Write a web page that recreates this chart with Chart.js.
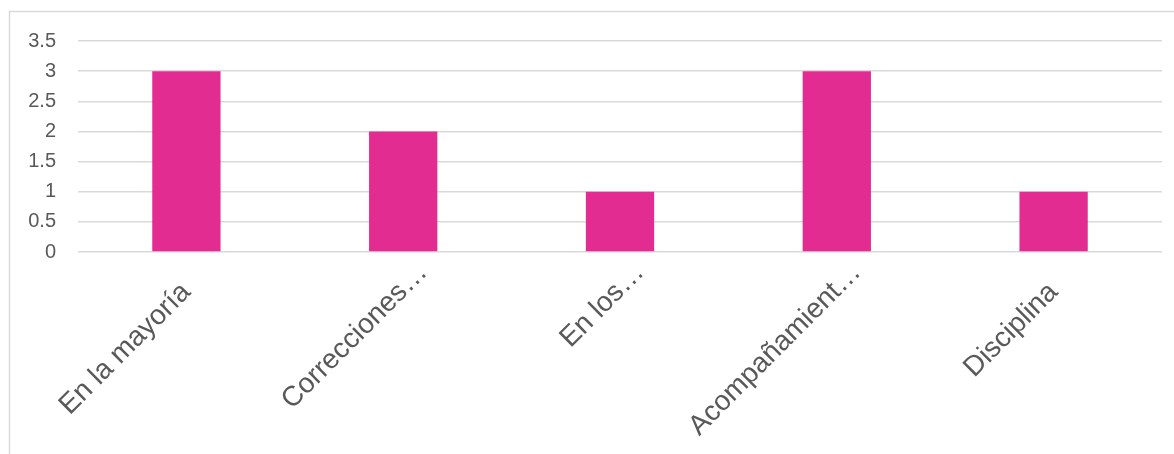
<!DOCTYPE html>
<html>
<head>
<meta charset="utf-8">
<script src="https://cdn.jsdelivr.net/npm/chart.js@4.4.0/dist/chart.umd.min.js"></script>
<style>
html,body{margin:0;padding:0;background:#fff;overflow:hidden;}
#wrap{position:absolute;left:0;top:0;width:1174px;height:454px;}
</style>
</head>
<body>
<div id="wrap"><canvas id="c" width="1174" height="454"></canvas></div>
<script>
const categories = ["En la mayoría", "Correcciones…", "En los…", "Acompañamient…", "Disciplina"];
const values = [3, 2, 1, 3, 1];
const yTicks = [0, 0.5, 1, 1.5, 2, 2.5, 3, 3.5];

const ELL = '…';

const frame = {
  id: 'frame',
  beforeDraw(chart) {
    const ctx = chart.ctx;
    ctx.save();
    ctx.strokeStyle = '#D9D9D9';
    ctx.lineWidth = 1.5;
    ctx.strokeRect(9.5, 11.5, 2000, 2000);
    ctx.restore();
  },
  afterDraw(chart) {
    // Excel-style overflow ellipsis: appended beyond the tick anchor
    const sc = chart.scales.x;
    const items = sc.getLabelItems();
    const ctx = chart.ctx;
    items.forEach((it, i) => {
      const full = categories[i];
      if (!full.endsWith(ELL)) return;
      const o = it.options;
      ctx.save();
      ctx.font = it.font.string;
      ctx.fillStyle = o.color;
      ctx.translate(o.translation[0], o.translation[1]);
      ctx.rotate(o.rotation);
      ctx.textAlign = 'left';
      ctx.textBaseline = o.textBaseline;
      ctx.fillText(ELL, 0, it.textOffset);
      ctx.restore();
    });
  }
};

new Chart(document.getElementById('c'), {
  type: 'bar',
  data: {
    labels: categories,
    datasets: [{
      data: values,
      backgroundColor: '#E32C91',
      barPercentage: 0.63,
      categoryPercentage: 0.5
    }]
  },
  options: {
    responsive: false,
    animation: false,
    layout: { padding: { left: 0, right: 12, top: 41, bottom: 0 } },
    plugins: { legend: { display: false }, tooltip: { enabled: false } },
    scales: {
      x: {
        grid: { display: false },
        border: { display: false },
        ticks: {
          autoSkip: false,
          maxRotation: 45, minRotation: 45,
          color: '#595959',
          padding: 16,
          callback: (v, i) => categories[i].endsWith(ELL) ? categories[i].slice(0, -1) : categories[i],
          font: { family: 'Liberation Sans, Arial, sans-serif', size: 28 }
        },
        afterFit(s) { s.height = 202; }
      },
      y: {
        min: 0, max: 3.5,
        afterBuildTicks(s) { s.ticks = yTicks.map(v => ({ value: v })); },
        grid: { color: '#D9D9D9', lineWidth: 1.5, drawTicks: false },
        border: { display: false },
        ticks: {
          color: '#595959',
          padding: 22,
          callback: (v) => String(v),
          font: { family: 'Liberation Sans, Arial, sans-serif', size: 20 }
        },
        afterFit(s) { s.width = 78; }
      }
    }
  },
  plugins: [frame]
});
</script>
</body>
</html>
